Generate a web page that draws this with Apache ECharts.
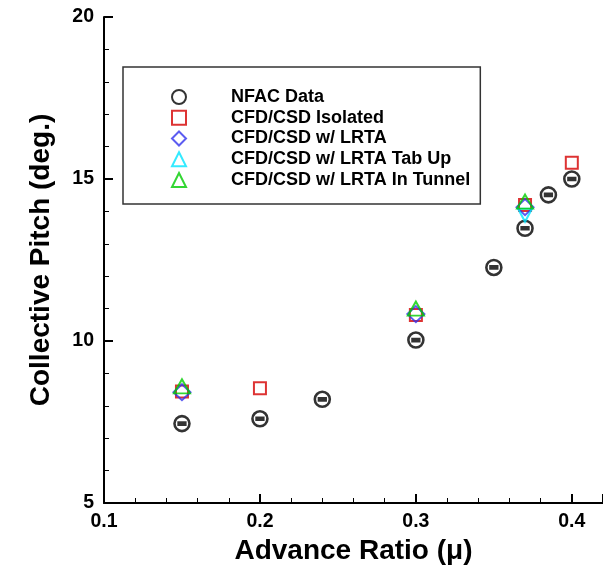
<!DOCTYPE html>
<html>
<head>
<meta charset="utf-8">
<script src="https://cdn.jsdelivr.net/npm/echarts@6/dist/echarts.min.js"></script>
<style>
  html, body { margin: 0; padding: 0; background: #fff; }
  #chart { width: 603px; height: 568px; }
</style>
</head>
<body>
<div id="chart"></div>
<script>
// values
const nfacMu = [0.15, 0.2, 0.24, 0.3, 0.35, 0.37, 0.385, 0.4]
const nfacPitch = [7.45, 7.6, 8.2, 10.03, 12.27, 13.48, 14.51, 15.0]
const isoMu = [0.15, 0.2, 0.3, 0.37, 0.4]
const isoPitch = [8.44, 8.54, 10.8, 14.2, 15.5]
const lrtaMu = [0.15, 0.3, 0.37]
const lrtaPitch = [8.42, 10.83, 14.13]
const tabUpMu = [0.37]
const tabUpPitch = [13.88]
const tunnelMu = [0.15, 0.3, 0.37]
const tunnelPitch = [8.6, 11.0, 14.3]
const seriesNames = ['NFAC Data', 'CFD/CSD Isolated', 'CFD/CSD w/ LRTA', 'CFD/CSD w/ LRTA Tab Up', 'CFD/CSD w/ LRTA In Tunnel']

const font = 'Liberation Sans, Arial, sans-serif'
const pairs = (xs, ys) => xs.map((x, i) => [x, ys[i]])

// circle with a small double bar through it
const nfacSymbol = 'path://M0,-1A1,1 0 1,1 0,1A1,1 0 1,1 0,-1ZM-0.62,-0.14L0.62,-0.14M-0.62,0.14L0.62,0.14'

const chart = echarts.init(document.getElementById('chart'))
chart.setOption({
  animation: false,
  backgroundColor: '#fff',
  grid: { left: 104, top: 17, right: 0, bottom: 65, outerBoundsMode: 'none' },
  legend: {
    orient: 'vertical',
    left: 123,
    top: 67,
    data: [
      { name: seriesNames[0], icon: 'circle' },
      seriesNames[1], seriesNames[2], seriesNames[3], seriesNames[4]
    ],
    itemWidth: 14,
    itemHeight: 14,
    itemGap: 2.75,
    padding: [21, 10, 15, 48],
    borderColor: '#333',
    borderWidth: 1.5,
    borderRadius: 0,
    backgroundColor: '#fff',
    textStyle: {
      fontFamily: font, fontWeight: 'bold', fontSize: 18, color: '#000',
      padding: [0, 0, 0, 40]
    }
  },
  xAxis: {
    type: 'value',
    min: 0.1,
    max: 0.42,
    interval: 0.1,
    name: 'Advance Ratio (\u03bc)',
    nameLocation: 'middle',
    nameGap: 24,
    nameTextStyle: { fontFamily: font, fontWeight: 'bold', fontSize: 28, color: '#000' },
    axisLine: { lineStyle: { color: '#000', width: 2 } },
    axisTick: { inside: true, length: 9, lineStyle: { color: '#000', width: 2 } },
    minorTick: { show: true, splitNumber: 5, length: 5, lineStyle: { color: '#000', width: 1 } },
    splitLine: { show: false },
    axisLabel: {
      showMaxLabel: false, margin: 9,
      fontFamily: font, fontWeight: 'bold', fontSize: 19.5, color: '#000',
      formatter: v => v.toFixed(1)
    }
  },
  yAxis: {
    type: 'value',
    min: 5,
    max: 20,
    interval: 5,
    name: 'Collective Pitch (deg.)',
    nameLocation: 'middle',
    nameGap: 49,
    nameTextStyle: { fontFamily: font, fontWeight: 'bold', fontSize: 28, color: '#000' },
    axisLine: { show: true, lineStyle: { color: '#000', width: 2 } },
    axisTick: { show: true, inside: true, length: 9, lineStyle: { color: '#000', width: 2 } },
    minorTick: { show: true, splitNumber: 5, length: 5, lineStyle: { color: '#000', width: 1 } },
    splitLine: { show: false },
    axisLabel: { margin: 10, fontFamily: font, fontWeight: 'bold', fontSize: 19.5, color: '#000' }
  },
  series: [
    {
      name: seriesNames[0], type: 'scatter', data: pairs(nfacMu, nfacPitch),
      symbol: nfacSymbol, symbolSize: 15,
      itemStyle: { color: 'transparent', borderColor: '#000', borderWidth: 2.6 }
    },
    {
      name: seriesNames[1], type: 'scatter', data: pairs(isoMu, isoPitch),
      symbol: 'rect', symbolSize: 12,
      itemStyle: { color: 'transparent', borderColor: '#d40000', borderWidth: 2 }
    },
    {
      name: seriesNames[2], type: 'scatter', data: pairs(lrtaMu, lrtaPitch),
      symbol: 'diamond', symbolSize: [17, 16],
      itemStyle: { color: 'transparent', borderColor: '#3333ee', borderWidth: 2 }
    },
    {
      name: seriesNames[3], type: 'scatter', data: pairs(tabUpMu, tabUpPitch),
      symbol: 'triangle', symbolSize: [14, 13], symbolRotate: 180,
      itemStyle: { color: 'transparent', borderColor: '#00e5ff', borderWidth: 2 }
    },
    {
      name: seriesNames[4], type: 'scatter', data: pairs(tunnelMu, tunnelPitch),
      symbol: 'triangle', symbolSize: [16, 14],
      itemStyle: { color: 'transparent', borderColor: '#00cc00', borderWidth: 2 }
    }
  ]
})
</script>
</body>
</html>
